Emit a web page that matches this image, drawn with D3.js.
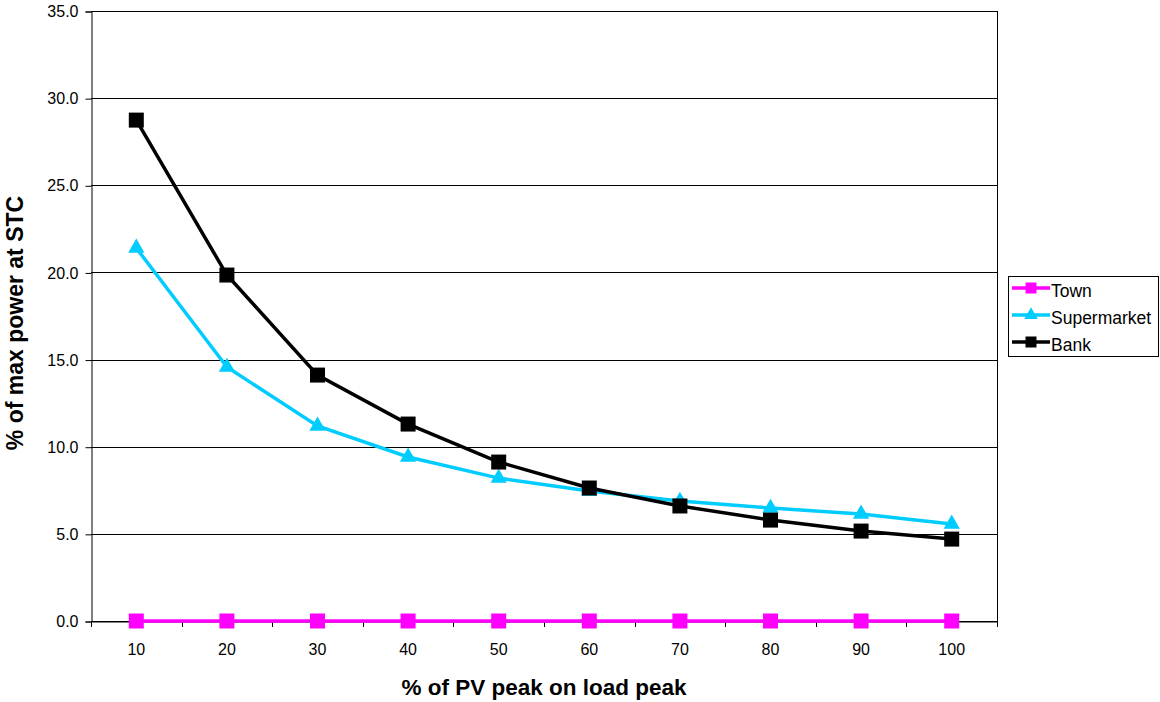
<!DOCTYPE html>
<html><head><meta charset="utf-8">
<script src="https://cdn.jsdelivr.net/npm/d3@7"></script>
<style>body{margin:0;background:#fff}svg{display:block}text{font-family:"Liberation Sans",Arial,sans-serif}</style>
</head><body>
<svg id="c" width="1160" height="702"></svg>
<script>
const categories = [10,20,30,40,50,60,70,80,90,100];
const town = [0,0,0,0,0,0,0,0,0,0];
const supermarket = [21.4,14.57,11.19,9.41,8.2,7.46,6.88,6.48,6.14,5.57];
const bank = [28.74,19.85,14.11,11.3,9.12,7.63,6.6,5.79,5.16,4.7];
const yTicks = [0,5,10,15,20,25,30,35];
const seriesNames = ["Town","Supermarket","Bank"];
const seriesColors = ["#FF00FF","#00CCFF","#000000"];
const seriesMarkers = ["square","triangle","square"];

const svg = d3.select("#c");
const L=91,R=997,T=11,B=621;
const x = d3.scaleBand().domain(categories).range([L,R]);
const y = d3.scaleLinear().domain([0,35]).range([B,T]);
const FONT = "Liberation Sans, Arial, sans-serif";

// gridlines
svg.append("g").selectAll("line").data(yTicks).join("line")
  .attr("x1",L).attr("x2",R).attr("y1",d=>Math.round(y(d))+0.5).attr("y2",d=>Math.round(y(d))+0.5)
  .attr("stroke","#000").attr("stroke-width",1);
// right border
svg.append("line").attr("x1",R+0.5).attr("x2",R+0.5).attr("y1",T).attr("y2",B).attr("stroke","#000");

// y axis
const ya = svg.append("g").attr("transform",`translate(${L+0.5},0.5)`)
  .call(d3.axisLeft(y).tickValues(yTicks).tickFormat(d3.format(".1f")).tickSize(6).tickPadding(7));
ya.select(".domain").attr("stroke","#000");
ya.selectAll("text").attr("font-size",16).attr("fill","#000").attr("font-family",FONT);

// x axis
const xa = svg.append("g").attr("transform",`translate(0,${B+0.5})`)
  .call(d3.axisBottom(x).tickSize(0));
xa.select(".domain").attr("stroke","#000");
xa.selectAll("text").attr("font-size",16).attr("fill","#000").attr("font-family",FONT).attr("dy",0).attr("y",33);
// tick marks at band boundaries
const bounds = categories.map(c=>x(c)).concat([R]);
svg.append("g").selectAll("line").data(bounds).join("line")
  .attr("x1",d=>Math.round(d)+0.5).attr("x2",d=>Math.round(d)+0.5).attr("y1",B).attr("y2",B+6).attr("stroke","#000");

const cx = c => x(c)+x.bandwidth()/2;
const allData = [town,supermarket,bank];
const line = d3.line().x((d,i)=>cx(categories[i])).y(d=>y(d));
const sq = d3.symbol().type(d3.symbolSquare).size(225);
const tri = d3.symbol().type(d3.symbolTriangle).size(115);

[1,2,0].forEach(k=>{
  const g = svg.append("g");
  g.append("path").datum(allData[k]).attr("d",line).attr("fill","none").attr("stroke",seriesColors[k]).attr("stroke-width",3.5);
  g.selectAll("path.m").data(allData[k]).join("path").attr("class","m")
    .attr("transform",(d,i)=>`translate(${cx(categories[i])},${y(d)})`)
    .attr("d",seriesMarkers[k]==="square"?sq:tri).attr("fill",seriesColors[k]);
});

// legend
const lg = svg.append("g");
lg.append("rect").attr("x",1008.5).attr("y",276.5).attr("width",150).attr("height",80).attr("fill","#fff").attr("stroke","#000");
seriesNames.forEach((n,i)=>{
  const yy = 288+i*27;
  lg.append("line").attr("x1",1012).attr("x2",1050).attr("y1",yy).attr("y2",yy).attr("stroke",seriesColors[i]).attr("stroke-width",3.5);
  lg.append("path").attr("transform",`translate(1031,${yy})`).attr("d",seriesMarkers[i]==="square"?d3.symbol().type(d3.symbolSquare).size(121)():d3.symbol().type(d3.symbolTriangle).size(80)()).attr("fill",seriesColors[i]);
  lg.append("text").attr("x",1051).attr("y",yy+9).attr("font-size",17.5).attr("fill","#000").text(n);
});

// titles
svg.append("text").attr("x",(L+R)/2).attr("y",695).attr("text-anchor","middle").attr("font-size",22.5).attr("font-weight","bold").text("% of PV peak on load peak");
svg.append("text").attr("transform",`translate(23,323) rotate(-90)`).attr("text-anchor","middle").attr("font-size",23).attr("font-weight","bold").text("% of max power at STC");
</script>
</body></html>
